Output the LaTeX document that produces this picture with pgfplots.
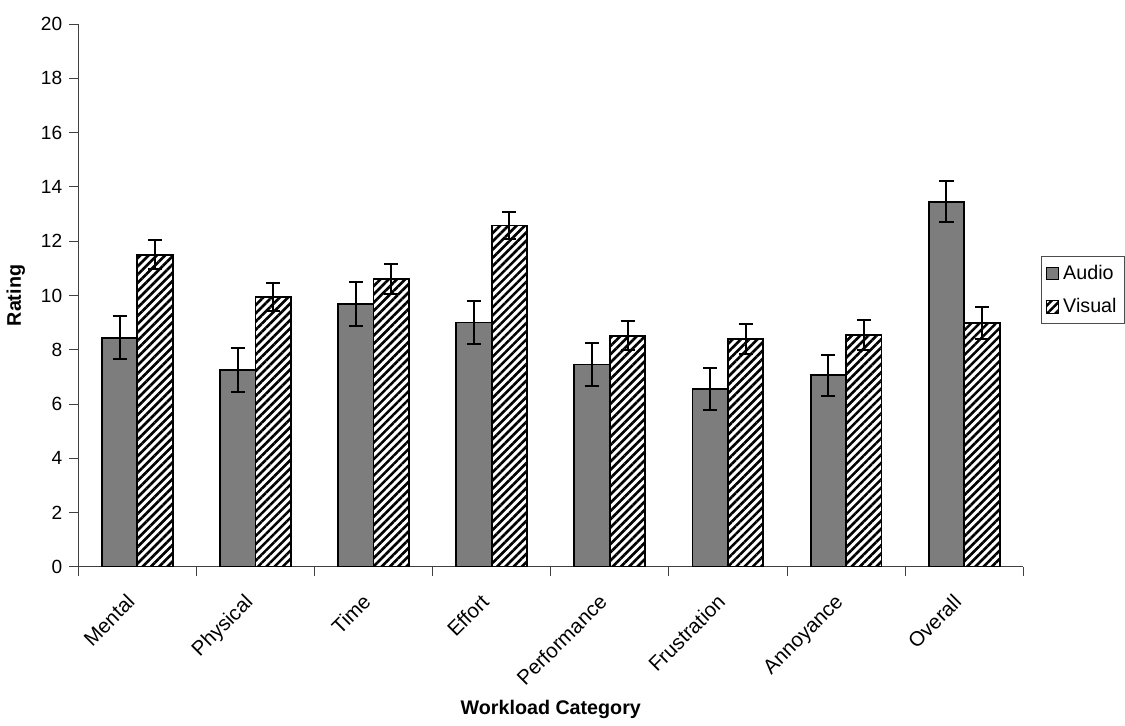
\documentclass[border=0pt]{standalone}
\usepackage{fontspec}
\setmainfont{Liberation Sans}
\usepackage{pgfplots}
\pgfplotsset{compat=1.18}
\usetikzlibrary{patterns.meta}
\definecolor{audiogray}{RGB}{125,125,125}
\pgfplotstableread{
x audio aerr visual verr
0 8.45 0.80 11.50 0.54
1 7.25 0.80 9.96 0.52
2 9.69 0.82 10.62 0.55
3 9.01 0.79 12.58 0.50
4 7.46 0.78 8.52 0.54
5 6.57 0.77 8.40 0.54
6 7.06 0.75 8.54 0.56
7 13.46 0.76 8.98 0.58
}\datatable
\begin{document}
\begin{tikzpicture}
\begin{axis}[
  scale only axis, width=470pt, height=270pt,
  xmin=-0.5, xmax=7.5, ymin=0, ymax=20,
  ytick={0,2,...,20},
  /pgf/number format/assume math mode=true,
  axis lines*=left,
  axis line style={-, line width=0.5pt, black!75},
  tick style={black!75, line width=0.5pt},
  tick align=outside,
  major tick length=4.5pt,
  xtick={-0.5,0.5,...,7.5},
  xticklabels={},
  extra x ticks={0,1,...,7},
  extra x tick labels={Mental,Physical,Time,Effort,Performance,Frustration,Annoyance,Overall},
  extra x tick style={major tick length=0pt},
  xticklabel style={xshift=-6pt, yshift=-8pt, rotate=45, anchor=north east, font=\fontsize{10.2}{11}\selectfont},
  yticklabel style={font=\fontsize{9.5}{11}\selectfont},
  xlabel={Workload Category},
  ylabel={Rating},
  xlabel style={font=\fontsize{9.8}{11}\selectfont\bfseries, at={(axis description cs:0.5,-0.263)}, anchor=center},
  ylabel style={font=\fontsize{9.8}{11}\selectfont\bfseries, at={(axis description cs:-0.066,0.5)}, anchor=center},
  ybar=0pt, bar width=0.3,
  legend style={at={(axis description cs:1.019,0.51)}, anchor=west, draw=black!70,
    font=\fontsize{9.8}{11}\selectfont, inner sep=2pt, row sep=4pt},
  legend cell align=left,
  legend image code/.code={\draw[#1, line width=0.5pt] (0cm,-0.11cm) rectangle (0.22cm,0.11cm);},
]
\addplot[fill=audiogray, draw=black, line width=0.9pt,
  error bars/.cd, y dir=both, y explicit,
  error bar style={line width=1pt, black},
  error mark options={rotate=90, mark size=3.5pt, line width=1pt, black}]
  table[x=x, y=audio, y error=aerr]{\datatable};
\addplot[pattern={Lines[angle=45, distance=2.9pt, line width=1.3pt]}, pattern color=black, draw=black, line width=0.9pt,
  error bars/.cd, y dir=both, y explicit,
  error bar style={line width=1pt, black},
  error mark options={rotate=90, mark size=3.5pt, line width=1pt, black}]
  table[x=x, y=visual, y error=verr]{\datatable};
\legend{Audio, Visual}
\end{axis}
\path ([yshift=12pt]current axis.north);
\end{tikzpicture}
\end{document}
